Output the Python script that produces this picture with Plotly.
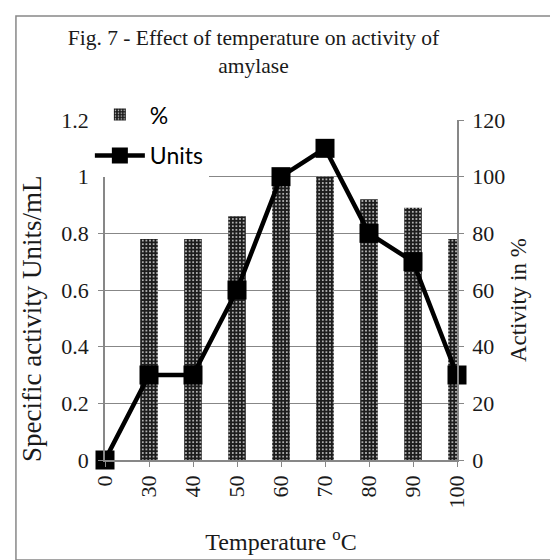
import plotly.graph_objects as go

categories = ["0", "30", "40", "50", "60", "70", "80", "90", "100"]
percent = [0, 78, 78, 86, 100, 100, 92, 89, 78]
units = [0, 0.3, 0.3, 0.6, 1.0, 1.1, 0.8, 0.7, 0.3]
left_ticks = [0, 0.2, 0.4, 0.6, 0.8, 1, 1.2]
right_ticks = [0, 20, 40, 60, 80, 100, 120]

idx = list(range(len(categories)))
SERIF = "Liberation Serif, Times New Roman, serif"
SANS = "Lato, Liberation Sans, sans-serif"
GRID = "#878787"
TXT = "#1a1a1a"

fig = go.Figure()
# bars on the primary (right-side) axis so the line overlays them
fig.add_trace(go.Bar(
    x=idx, y=percent, yaxis="y", name="%", width=0.4,
    marker=dict(color="#1c1c1c", line=dict(width=0),
                pattern=dict(shape=".", fgcolor="#e0e0e0", bgcolor="#1c1c1c",
                             size=3.6, solidity=0.2, fillmode="replace")),
    legendgroup="a",
))
fig.add_trace(go.Scatter(
    x=idx, y=units, yaxis="y2", name="Units", mode="lines+markers",
    line=dict(color="black", width=4.5),
    marker=dict(symbol="square", size=19, color="black"),
    cliponaxis=False, legendgroup="b",
))

fig.update_layout(
    width=558, height=560,
    margin=dict(l=97, r=109, t=112, b=108),
    paper_bgcolor="white", plot_bgcolor="white",
    showlegend=True,
    legend=dict(x=-0.043, y=1.079, xanchor="left", yanchor="top",
                font=dict(family=SANS, size=23, color="black"),
                bgcolor="white", tracegroupgap=8, itemwidth=50),
    title=dict(text="Fig. 7 - Effect of temperature on activity of<br>amylase",
               x=0.44, xanchor="center", y=0.934, yanchor="top",
               font=dict(family=SERIF, size=21.5, color=TXT)),
    xaxis=dict(tickmode="array", tickvals=idx, ticktext=categories,
               range=[0, 8], tickangle=-90, ticks="outside", ticklen=5,
               tickcolor=GRID, showline=True, linecolor=GRID, linewidth=1.5,
               showgrid=False, zeroline=False,
               tickfont=dict(family=SERIF, size=22, color=TXT),
               title=dict(text="Temperature <sup>o</sup>C", standoff=26,
                          font=dict(family=SERIF, size=24, color=TXT))),
    yaxis=dict(range=[0, 120], tickvals=right_ticks, side="right",
               ticks="outside", ticklen=5, tickcolor=GRID, showline=True,
               linecolor=GRID, linewidth=1.5, showgrid=True, gridcolor=GRID,
               gridwidth=1.2, zeroline=False, ticklabelstandoff=4,
               tickfont=dict(family=SERIF, size=22, color=TXT)),
    yaxis2=dict(range=[0, 1.2], tickvals=left_ticks, overlaying="y", side="left",
                ticks="outside", ticklen=5, tickcolor=GRID, showline=True,
                linecolor=GRID, linewidth=1.5, showgrid=False, zeroline=False,
                ticklabelstandoff=5,
                tickfont=dict(family=SERIF, size=22, color=TXT)),
    bargap=0.6,
)
fig.add_annotation(text="Specific activity Units/mL", textangle=-90, xref="paper", yref="paper",
                   x=-0.207, y=0.415, xanchor="center", yanchor="middle", showarrow=False,
                   font=dict(family=SERIF, size=27, color=TXT))
fig.add_annotation(text="Activity in %", textangle=-90, xref="paper", yref="paper",
                   x=1.173, y=0.47, xanchor="center", yanchor="middle", showarrow=False,
                   font=dict(family=SERIF, size=23, color=TXT))
fig.add_shape(type="rect", xref="paper", yref="paper", x0=-0.253, x1=1.287, y0=-0.294, y1=1.306,
              line=dict(color="#888", width=1.5), fillcolor="rgba(0,0,0,0)", layer="below")
fig.write_html("out.html")
